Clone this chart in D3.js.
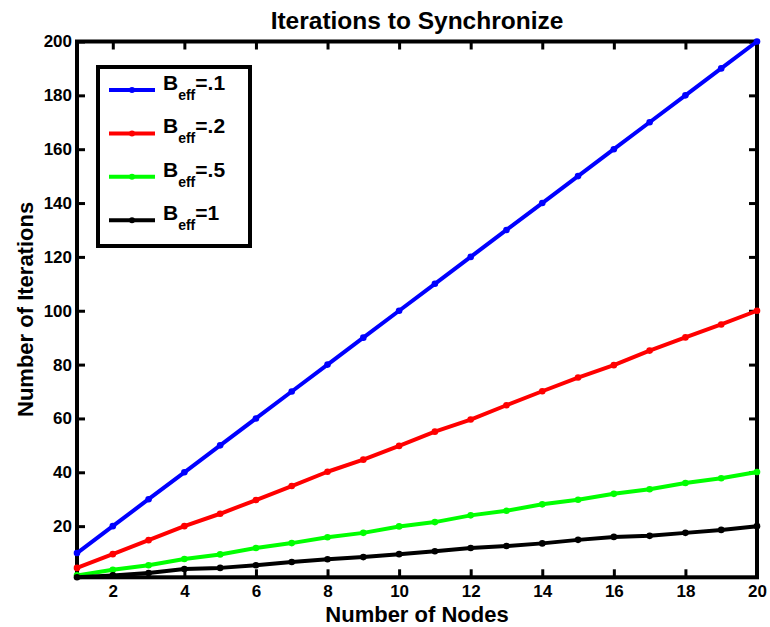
<!DOCTYPE html>
<html>
<head>
<meta charset="utf-8">
<script src="https://cdn.jsdelivr.net/npm/d3@7/dist/d3.min.js"></script>
<style>
  html, body { margin: 0; padding: 0; background: #fff; }
  svg { display: block; }
  text { font-family: "Liberation Sans", Arial, Helvetica, sans-serif; font-weight: bold; fill: #000; }
</style>
</head>
<body>
<svg id="chart" width="770" height="627"></svg>
<script>
// Number of nodes on the x axis
const nodes = [1, 2, 3, 4, 5, 6, 7, 8, 9, 10, 11, 12, 13, 14, 15, 16, 17, 18, 19, 20];

// Iterations needed to synchronize, one series per effective bandwidth
const beff01 = [10, 20, 30, 40, 50, 60, 70, 80, 90, 100, 110, 120, 130, 140, 150, 160, 170, 180, 190, 200];
const beff02 = [4.5, 9.6, 14.8, 20, 24.6, 29.7, 34.9, 40.2, 44.7, 49.8, 55.1, 59.6, 64.9, 70.1, 75.2, 79.8, 85.2, 90.1, 94.9, 100];
const beff05 = [1.7, 3.8, 5.5, 7.8, 9.5, 11.9, 13.7, 15.9, 17.5, 19.9, 21.5, 24.0, 25.7, 28.1, 29.8, 32.0, 33.7, 36.0, 37.8, 40.1];
const beff1  = [1, 1.7, 2.6, 4.1, 4.5, 5.5, 6.7, 7.7, 8.5, 9.6, 10.7, 11.9, 12.6, 13.6, 14.9, 16.0, 16.4, 17.5, 18.6, 20];

const seriesLabels = [".1", ".2", ".5", "1"];
const seriesColors = ["#0000ff", "#ff0000", "#00ff00", "#000000"];

const xTicks = [2, 4, 6, 8, 10, 12, 14, 16, 18, 20];
const yTicks = [20, 40, 60, 80, 100, 120, 140, 160, 180, 200];

const titleText = "Iterations to Synchronize";
const xLabelText = "Number of Nodes";
const yLabelText = "Number of Iterations";

const series = [beff01, beff02, beff05, beff1].map((vals, i) => ({
  label: seriesLabels[i],
  color: seriesColors[i],
  points: nodes.map((n, j) => ({ x: n, y: vals[j] }))
}));

const plot = { left: 77, right: 757, top: 41.5, bottom: 577.3 };

const x = d3.scaleLinear().domain([1, 20]).range([plot.left, plot.right]);
const y = d3.scaleLinear().domain([1, 200]).range([plot.bottom, plot.top]);

const svg = d3.select("#chart");

// Axes box with inward ticks on all four sides
const tickLen = 8;
const axisGroup = svg.append("g");

function styleAxis(g) {
  g.select(".domain").remove();
  g.selectAll(".tick line").attr("stroke", "#000").attr("stroke-width", 3);
  g.selectAll(".tick text").style("font-size", "17px").attr("fill", "#000");
}

axisGroup.append("g")
  .attr("transform", `translate(0,${plot.bottom})`)
  .call(d3.axisBottom(x).tickValues(xTicks).tickSizeInner(-tickLen).tickPadding(12).tickFormat(d3.format("d")))
  .call(styleAxis)
  .call(g => g.selectAll(".tick text").attr("dy", "0.71em").attr("y", 8));

axisGroup.append("g")
  .attr("transform", `translate(0,${plot.top})`)
  .call(d3.axisTop(x).tickValues(xTicks).tickSizeInner(-tickLen).tickFormat(""))
  .call(styleAxis);

axisGroup.append("g")
  .attr("transform", `translate(${plot.left},0)`)
  .call(d3.axisLeft(y).tickValues(yTicks).tickSizeInner(-tickLen).tickPadding(6).tickFormat(d3.format("d")))
  .call(styleAxis)
  .call(g => g.selectAll(".tick text").attr("x", -5));

axisGroup.append("g")
  .attr("transform", `translate(${plot.right},0)`)
  .call(d3.axisRight(y).tickValues(yTicks).tickSizeInner(-tickLen).tickFormat(""))
  .call(styleAxis);

axisGroup.append("rect")
  .attr("x", plot.left).attr("y", plot.top)
  .attr("width", plot.right - plot.left).attr("height", plot.bottom - plot.top)
  .attr("fill", "none").attr("stroke", "#000").attr("stroke-width", 4);

// Series lines with dot markers
const line = d3.line().x(d => x(d.x)).y(d => y(d.y));
const seriesGroup = svg.append("g");
series.forEach(s => {
  seriesGroup.append("path")
    .datum(s.points)
    .attr("d", line)
    .attr("fill", "none")
    .attr("stroke", s.color)
    .attr("stroke-width", 4)
    .attr("stroke-linejoin", "round");
  seriesGroup.selectAll(null)
    .data(s.points)
    .enter().append("circle")
    .attr("cx", d => x(d.x))
    .attr("cy", d => y(d.y))
    .attr("r", 3.3)
    .attr("fill", s.color);
});

// Title and axis labels
svg.append("text")
  .attr("x", (plot.left + plot.right) / 2).attr("y", 29)
  .attr("text-anchor", "middle")
  .style("font-size", "24.5px")
  .text(titleText);

svg.append("text")
  .attr("x", (plot.left + plot.right) / 2).attr("y", 621.5)
  .attr("text-anchor", "middle")
  .style("font-size", "22px")
  .text(xLabelText);

svg.append("text")
  .attr("transform", `translate(33,${(plot.top + plot.bottom) / 2}) rotate(-90)`)
  .attr("text-anchor", "middle")
  .style("font-size", "22px")
  .text(yLabelText);

// Legend
const legend = { x: 98, y: 67, w: 152, h: 179, rowStart: 90, rowGap: 43.4 };
const lg = svg.append("g");
lg.append("rect")
  .attr("x", legend.x).attr("y", legend.y)
  .attr("width", legend.w).attr("height", legend.h)
  .attr("fill", "#fff").attr("stroke", "#000").attr("stroke-width", 4);

series.forEach((s, i) => {
  const ry = legend.rowStart + i * legend.rowGap;
  lg.append("line")
    .attr("x1", 109).attr("x2", 155).attr("y1", ry).attr("y2", ry)
    .attr("stroke", s.color).attr("stroke-width", 4);
  lg.append("circle")
    .attr("cx", 132).attr("cy", ry).attr("r", 3)
    .attr("fill", s.color);
  const t = lg.append("text")
    .attr("x", 163).attr("y", ry)
    .style("font-size", "21px");
  t.append("tspan").text("B");
  t.append("tspan").attr("dy", 10).style("font-size", "14px").text("eff");
  t.append("tspan").attr("dy", -10).text("=" + s.label);
});
</script>
</body>
</html>
